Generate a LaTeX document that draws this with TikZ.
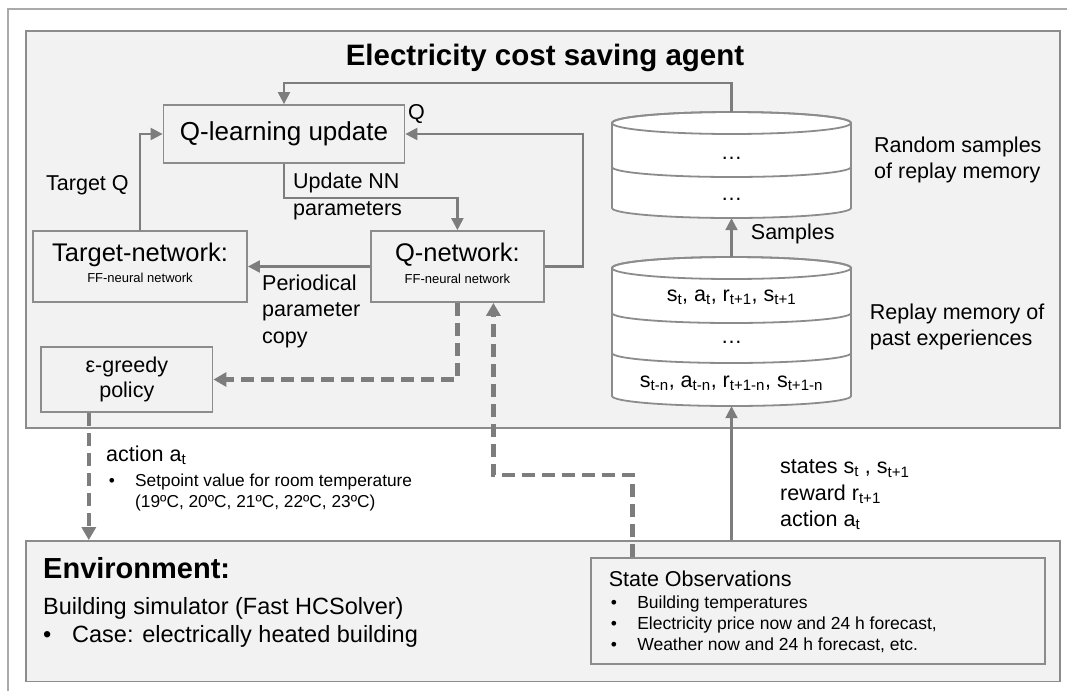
\documentclass[tikz,border=0pt]{standalone}
\usepackage{fontspec}
\setmainfont{Liberation Sans}
\usepackage{tikz}
\usetikzlibrary{shapes,arrows.meta,positioning,calc}
\definecolor{panelgray}{RGB}{242,242,242}
\definecolor{linegray}{RGB}{140,140,140}
\definecolor{arrowgray}{RGB}{125,125,125}
\definecolor{framegray}{RGB}{170,170,170}

\newcommand{\fs}[2]{\fontsize{#1}{#2}\selectfont}
\newcommand{\bul}[2]{\makebox[#1][l]{\textbullet}#2}

\tikzset{
    blk/.style={draw=linegray, line width=1.8pt, inner sep=0pt, align=center},
    txt/.style={inner sep=0pt, align=left, anchor=west, font=\fs{21.5}{26.5}},
    flow/.style={draw=arrowgray, line width=2.2pt, -{Triangle[length=12pt,width=12pt]}},
    dflow/.style={draw=arrowgray, line width=4.5pt, dash pattern=on 13pt off 7pt, -{Triangle[length=13pt,width=14pt]}},
    cyl/.style={draw=linegray, line width=1.8pt}
}

\begin{document}
\begin{tikzpicture}[x=1pt, y=-1pt]
    \useasboundingbox (0,0) rectangle (1067,691);
    \draw[framegray, line width=2pt] (8,691) -- (8,9) -- (1067,9);

    % Panels
    \node[blk, fill=panelgray, minimum width=1034pt, minimum height=397pt] (agent) at (543,229.5) {};
    \node[blk, fill=panelgray, minimum width=1034pt, minimum height=140.5pt] (env) at (543,611.25) {};
    \node[font=\bfseries\fs{29.5}{33}] (title) at (545,58) {Electricity cost saving agent};

    % Blocks
    \node[blk, minimum width=241pt, minimum height=58pt, font=\fs{26}{30}] (qlearn) at (284,134) {Q-learning update};
    \node[blk, minimum width=214pt, minimum height=71pt] (tnet) at (140,266.5) {};
    \node[blk, minimum width=172.5pt, minimum height=71pt] (qnet) at (457.4,266.5) {};
    \node[font=\fs{25.5}{28}] (tnettitle) at (140,255) {Target-network:};
    \node[font=\fs{13}{15}] (tnetsub) at (140,278) {FF-neural network};
    \node[font=\fs{25.5}{28}] (qnettitle) at (457.4,255) {Q-network:};
    \node[font=\fs{13}{15}] (qnetsub) at (457.4,279) {FF-neural network};
    \node[blk, minimum width=171.5pt, minimum height=65pt, font=\fs{21.5}{25.5}] (egreedy) at (126.8,379.5) {ε-greedy\\policy};
    \node[blk, fill=panelgray, line width=1.5pt, minimum width=454pt, minimum height=106pt] (obs) at (818,611) {};

    % Memory cylinders
    \foreach \ytop/\ybot in {123/208, 268/396} {
        \filldraw[cyl, fill=white] (612,\ytop) -- (612,\ybot)
            arc[start angle=180, end angle=360, x radius=119.5pt, y radius=10pt] -- (851,\ytop)
            arc[start angle=0, end angle=180, x radius=119.5pt, y radius=11pt] -- cycle;
        \draw[cyl] (731.5,\ytop) ellipse [x radius=119.5pt, y radius=11pt];
    }
    \foreach \y in {167, 313, 353}
        \draw[cyl] (612,\y) arc[start angle=180, end angle=360, x radius=119.5pt, y radius=10pt];
    \node[minimum width=239pt, minimum height=106pt, inner sep=0pt] (memtop) at (731.5,165) {};
    \node[minimum width=239pt, minimum height=149pt, inner sep=0pt] (replay) at (731.5,331.5) {};

    \node[font=\fs{21.5}{26}] (dots1) at (731.5,158) {\ldots};
    \node[font=\fs{21.5}{26}] (dots2) at (731.5,199) {\ldots};
    \node[font=\fs{21.5}{26}] (row1) at (731.5,297) {s\textsubscript{t}, a\textsubscript{t}, r\textsubscript{t+1}, s\textsubscript{t+1}};
    \node[font=\fs{21.5}{26}] (dots3) at (731.5,342) {\ldots};
    \node[font=\fs{21.5}{26}] (row3) at (731.5,383) {s\textsubscript{t-n}, a\textsubscript{t-n}, r\textsubscript{t+1-n}, s\textsubscript{t+1-n}};

    % Labels
    \node[txt] (qlbl) at (408,114) {Q};
    \node[txt] (targetq) at (46,185.7) {Target Q};
    \node[txt] (updlbl) at (293,196.3) {Update NN\\parameters};
    \node[txt] (copylbl) at (262,311) {Periodical\\parameter\\copy};
    \node[txt] (randlbl) at (874,160) {Random samples\\of replay memory};
    \node[txt] (samplbl) at (750.7,234.3) {Samples};
    \node[txt] (replbl) at (869.7,326.7) {Replay memory of\\past experiences};
    \node[txt] (actlbl) at (106,455) {action a\textsubscript{t}};
    \node[txt, font=\fs{17.3}{21}] (setlbl) at (108.6,492.2) {\bul{26.4pt}{Setpoint value for room temperature}\\\makebox[26.4pt]{}(19ºC, 20ºC, 21ºC, 22ºC, 23ºC)};
    \node[txt] (stlbl) at (780,495) {states s\textsubscript{t} , s\textsubscript{t+1}\\reward r\textsubscript{t+1}\\action a\textsubscript{t}};
    \node[txt, font=\bfseries\fs{29}{32}] (envlbl) at (43,568.3) {Environment:};
    \node[txt, font=\fs{23.5}{28}] (simlbl) at (43,622) {Building simulator (Fast HCSolver)\\\bul{29pt}{Case: electrically heated building}};
    \node[txt] (obslbl) at (608.6,579.3) {State Observations};
    \node[txt, font=\fs{17.5}{21}] (obsitems) at (610.6,624) {\bul{26.5pt}{Building temperatures}\\\bul{26.5pt}{Electricity price now and 24 h forecast,}\\\bul{26.5pt}{Weather now and 24 h forecast, etc.}};

    % Arrows
    \draw[flow] (memtop.north) -- ++(0,-29) -| (qlearn.north);
    \draw[flow] (tnet.north) |- (qlearn.west);
    \draw[flow] (qnet.east) -- ++(38.7,0) |- (qlearn.east);
    \draw[flow] (qlearn.south) -- ++(0,34) -| (qnet.north);
    \draw[flow] (qnet.west) -- (tnet.east);
    \draw[flow] (replay.north) -- (memtop.south);
    \draw[flow] (env.north -| replay.south) -- (replay.south);

    % Dashed arrows
    \coordinate (actout) at ([xshift=-38pt]egreedy.south);
    \coordinate (obsout) at ([xshift=42.4pt]obs.north west);
    \coordinate (qin) at ([xshift=36pt]qnet.south);
    \draw[dflow] (qnet.south) |- (egreedy.east);
    \draw[dflow] (actout) -- (actout |- env.north);
    \draw[dflow] (obsout) -- ++(0,-82.5) -| (qin);
\end{tikzpicture}
\end{document}
